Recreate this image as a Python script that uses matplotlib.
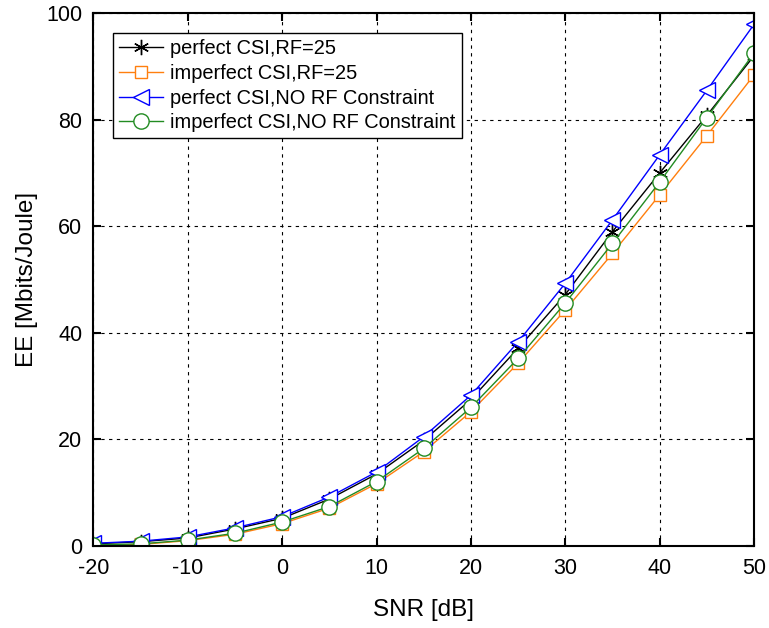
import numpy as np
import matplotlib.pyplot as plt

plt.rcParams['font.family'] = ['Liberation Sans', 'DejaVu Sans']
plt.rcParams['axes.unicode_minus'] = False

snr = [-20, -15, -10, -5, 0, 5, 10, 15, 20, 25, 30, 35, 40, 45, 50]
ee_perfect_rf = [0.4, 0.8, 1.5, 3.2, 5.2, 8.8, 13.5, 19.8, 27.5, 37.1, 47.2, 59.0, 70.0, 80.8, 92.0]
ee_imperfect_rf = [0.1, 0.3, 1.0, 2.2, 4.2, 7.1, 11.7, 17.7, 25.2, 34.3, 44.3, 54.9, 65.9, 77.0, 88.4]
ee_perfect_norf = [0.5, 0.9, 1.7, 3.4, 5.5, 9.2, 13.9, 20.5, 28.3, 38.3, 49.3, 61.2, 73.4, 85.5, 97.9]
ee_imperfect_norf = [0.2, 0.4, 1.1, 2.4, 4.5, 7.4, 12.1, 18.3, 26.0, 35.2, 45.6, 56.8, 68.3, 80.4, 92.5]

fig = plt.figure(figsize=(7.69, 6.28), dpi=100)
ax = fig.add_axes([0.1215, 0.1306, 0.859, 0.8484])

ax.plot(snr, ee_perfect_rf, color='black', marker=(6, 2, 0), markersize=11, lw=1,
        markeredgewidth=1, label='perfect CSI,RF=25')
ax.plot(snr, ee_imperfect_rf, color='#FF7F0E', marker='s', markersize=9, lw=1,
        markerfacecolor='white', markeredgewidth=1, label='imperfect CSI,RF=25')
ax.plot(snr, ee_perfect_norf, color='#0000FF', marker='<', markersize=11.5, lw=1,
        markerfacecolor='white', markeredgewidth=1, label='perfect CSI,NO RF Constraint')
ax.plot(snr, ee_imperfect_norf, color='#228B22', marker='o', markersize=11, lw=1,
        markerfacecolor='white', markeredgewidth=1, label='imperfect CSI,NO RF Constraint')

ax.set_xlim(-20, 50)
ax.set_ylim(0, 100)
ax.set_xticks(np.arange(-20, 51, 10))
ax.set_yticks(np.arange(0, 101, 20))
ax.grid(True, color='black', linestyle=(0, (3, 4)), linewidth=0.8)
ax.tick_params(direction='in', top=True, right=True, length=6, width=1.5, labelsize=15.5)
ax.tick_params(axis='x', pad=9)
ax.tick_params(axis='y', pad=8)
for s in ax.spines.values():
    s.set_linewidth(1.5)

ax.set_xlabel('SNR [dB]', fontsize=17.5, labelpad=14)
ax.set_ylabel('EE [Mbits/Joule]', fontsize=17.5, labelpad=6)

leg = ax.legend(loc='upper left', bbox_to_anchor=(0.030, 0.962), fontsize=14.4,
                fancybox=False, framealpha=1, edgecolor='black',
                handlelength=2.2, borderpad=0.3, labelspacing=0.28, handletextpad=0.35,
                borderaxespad=0)
leg.get_frame().set_linewidth(1)

fig.savefig('out.png', dpi=100)
